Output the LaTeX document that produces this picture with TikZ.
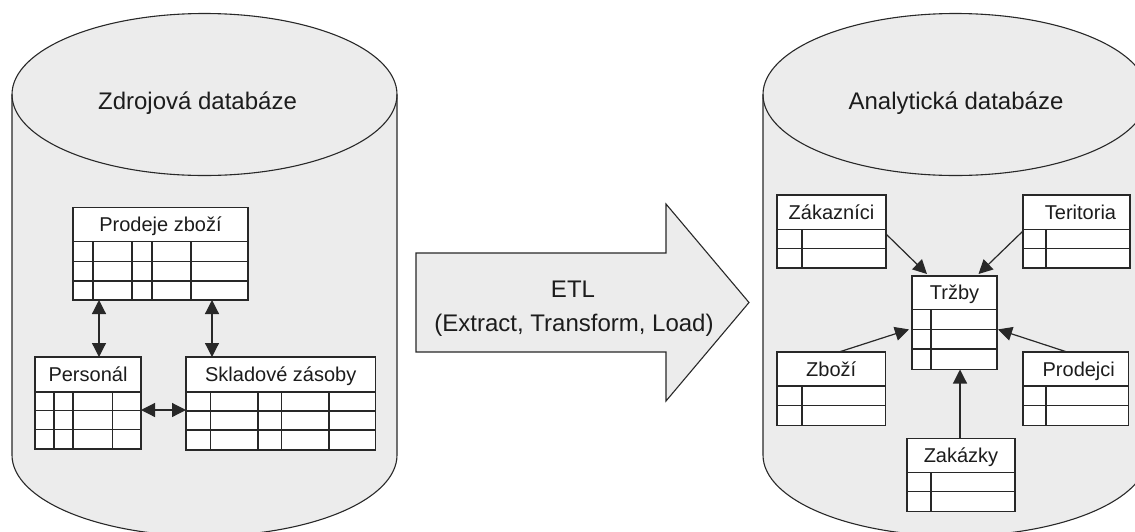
\documentclass[tikz,border=0pt]{standalone}
\usepackage{fontspec}
\setmainfont{Liberation Sans}
\usetikzlibrary{arrows.meta,calc}
\definecolor{cylfill}{RGB}{236,236,236}
\definecolor{edge}{RGB}{40,40,40}
\definecolor{txt}{RGB}{28,28,28}
\tikzset{
  cylline/.style={draw=edge, line width=1.1pt, fill=cylfill},
  tabbox/.style={draw=edge, fill=white, line width=1.2pt, inner sep=0pt, outer sep=0pt, rectangle},
  gridline/.style={draw=edge, line width=1.2pt},
  tablabel/.style={anchor=base, inner sep=0pt, text=txt, font=\fontsize{20}{24}\selectfont},
  titletext/.style={anchor=base, inner sep=0pt, text=txt, font=\fontsize{24}{28}\selectfont},
  conn/.style={draw=edge, line width=1.2pt, -{Triangle[length=14pt,width=14pt]}},
  conn2/.style={draw=edge, line width=1.2pt, {Triangle[length=14pt,width=14pt]}-{Triangle[length=14pt,width=14pt]}},
}
% #1 name, #2 x1, #3 y1, #4 x2, #5 y2, #6 header line y, #7 row lines, #8 column lines, #9 label
\newcommand{\dbtab}[9]{%
  \node[tabbox, minimum width={(#4-#2)*1pt}, minimum height={(#5-#3)*1pt}] (#1) at ({(#2+#4)/2},{(#3+#5)/2}) {};
  \draw[gridline] (#2,#6) -- (#4,#6);
  \foreach \ry in {#7} {\draw[gridline] (#2,\ry) -- (#4,\ry);}
  \foreach \cx in {#8} {\draw[gridline] (\cx,#6) -- (\cx,#5);}
  \node[tablabel] (#1-label) at ({(#2+#4)/2},{(#3+#6)/2+7.2}) {#9};
}
\begin{document}
\begin{tikzpicture}[x=1pt,y=-1pt]
\useasboundingbox (0,0) rectangle (1135,531);
\clip (0,0) rectangle (1135,531);
% source cylinder
\path[cylline] (12,94.5) -- (12,455) arc[start angle=180, end angle=0, x radius=192.5, y radius=81]
  -- (397,94.5) arc[start angle=0, end angle=-180, x radius=192.5, y radius=81] -- cycle;
\draw[draw=edge, line width=1.1pt] (12,94.5) arc[start angle=180, end angle=0, x radius=192.5, y radius=81];
% target cylinder
\path[cylline] (763,94.5) -- (763,455) arc[start angle=180, end angle=0, x radius=192.5, y radius=81]
  -- (1148,94.5) arc[start angle=0, end angle=-180, x radius=192.5, y radius=81] -- cycle;
\draw[draw=edge, line width=1.1pt] (763,94.5) arc[start angle=180, end angle=0, x radius=192.5, y radius=81];
\node[titletext] (srctitle) at (197.5,109) {Zdrojová databáze};
\node[titletext] (anatitle) at (956,109) {Analytická databáze};
% ETL arrow
\path[cylline] (416,253) -- (666,253) -- (666,204) -- (749,302.5) -- (666,401) -- (666,352) -- (416,352) -- cycle;
\node[titletext] (etl1) at (573,297.3) {ETL};
\node[titletext] (etl2) at (574,331.5) {(Extract, Transform, Load)};
% source tables
\dbtab{prod}{73}{207.5}{248}{300}{241.7}{261.5,281}{93,132,152,191}{Prodeje zboží}
\dbtab{pers}{35}{357}{141}{449}{392}{410.5,429.5}{54,73,112.5}{Personál}
\dbtab{skl}{186}{357}{375.5}{450}{392}{411,430}{210.5,258,281.5,329}{Skladové zásoby}
\coordinate (prodA) at ($(prod.south west)+(26,0)$);
\coordinate (prodB) at ($(prod.south west)+(139,0)$);
\coordinate (persR) at ($(pers.north east)+(0,53)$);
\draw[conn2] (prodA) -- (prodA |- pers.north);
\draw[conn2] (prodB) -- (prodB |- skl.north);
\draw[conn2] (persR) -- (persR -| skl.west);
% analytic tables
\dbtab{zak}{777}{195}{886}{268}{229.5}{248.5}{802}{Zákazníci}
\dbtab{ter}{1023}{195}{1130}{268}{229.5}{248.5}{1046}{\hspace{8pt}Teritoria}
\dbtab{trz}{912}{276}{997}{369.5}{309.5}{329.4,349}{931}{Tržby}
\dbtab{zbo}{777}{352}{885.5}{425.5}{386}{405.5}{802}{Zboží}
\dbtab{pro}{1023}{352}{1128.5}{425.5}{386}{405.5}{1046}{\hspace{6pt}Prodejci}
\dbtab{zkz}{907}{438.3}{1015}{511.7}{472.7}{491.7}{931}{Zakázky}
\draw[conn] ($(zak.north east)+(0,39)$) -- ($(trz.north west)+(15,-2)$);
\draw[conn] ($(ter.north west)+(0,36)$) -- ($(trz.north west)+(66.5,-2)$);
\draw[conn] ($(zbo.north west)+(62,0)$) -- ($(trz.north west)+(-3,53.4)$);
\draw[conn] ($(pro.north west)+(44,0)$) -- ($(trz.north east)+(1,53.4)$);
\coordinate (zkztop) at ($(zkz.north west)+(53,0)$);
\draw[conn] (zkztop) -- (zkztop |- trz.south);
\end{tikzpicture}
\end{document}
